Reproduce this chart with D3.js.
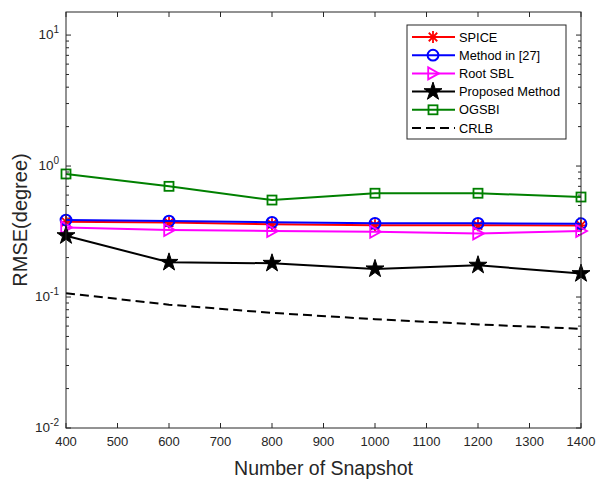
<!DOCTYPE html>
<html>
<head>
<meta charset="utf-8">
<script src="https://cdn.jsdelivr.net/npm/d3@7"></script>
<style>
  body { margin: 0; background: #fff; }
  svg { display: block; font-family: "Liberation Sans", Arial, sans-serif; }
</style>
</head>
<body>
<svg id="chart" width="599" height="483"></svg>
<script>
const snapshots = [400, 600, 800, 1000, 1200, 1400];
const spice = [0.375, 0.37, 0.36, 0.353, 0.353, 0.352];
const method27 = [0.387, 0.38, 0.372, 0.365, 0.365, 0.363];
const rootSbl = [0.34, 0.325, 0.319, 0.315, 0.306, 0.319];
const proposed = [0.294, 0.184, 0.181, 0.164, 0.175, 0.151];
const ogsbi = [0.87, 0.70, 0.55, 0.62, 0.62, 0.58];
const crlb = [0.107, 0.0874, 0.0757, 0.0677, 0.0618, 0.0572];
const xTicks = [400, 500, 600, 700, 800, 900, 1000, 1100, 1200, 1300, 1400];
const yDecades = [-2, -1, 0, 1];

const series = [
  { name: 'SPICE', values: spice, color: '#ff0000', marker: 'asterisk' },
  { name: 'Method in [27]', values: method27, color: '#0000ff', marker: 'circle' },
  { name: 'Root SBL', values: rootSbl, color: '#ff00ff', marker: 'triangle' },
  { name: 'Proposed Method', values: proposed, color: '#000000', marker: 'star' },
  { name: 'OGSBI', values: ogsbi, color: '#008000', marker: 'square' },
  { name: 'CRLB', values: crlb, color: '#000000', marker: 'none', dash: '9,5' }
];

const margin = { left: 66, top: 12, right: 18, bottom: 55 };
const W = 599 - margin.left - margin.right;
const H = 483 - margin.top - margin.bottom;

const svg = d3.select('#chart');
const g = svg.append('g').attr('transform', `translate(${margin.left},${margin.top})`);

const x = d3.scaleLinear().domain([400, 1400]).range([0, W]);
const y = d3.scaleLog().domain([0.01, 15]).range([H, 0]);

// minor/major ticks on y
const minorY = [];
for (let e = -2; e <= 1; e += 1) {
  for (let k = 2; k <= 9; k += 1) {
    const v = k * Math.pow(10, e);
    if (v < 15) minorY.push(v);
  }
}

const tickG = g.append('g').attr('stroke', '#262626').attr('stroke-width', 1);
xTicks.forEach(t => {
  tickG.append('line').attr('x1', x(t)).attr('x2', x(t)).attr('y1', H).attr('y2', H - 5);
  tickG.append('line').attr('x1', x(t)).attr('x2', x(t)).attr('y1', 0).attr('y2', 5);
});
yDecades.forEach(e => {
  const v = Math.pow(10, e);
  tickG.append('line').attr('x1', 0).attr('x2', 5).attr('y1', y(v)).attr('y2', y(v));
  tickG.append('line').attr('x1', W).attr('x2', W - 5).attr('y1', y(v)).attr('y2', y(v));
});
minorY.forEach(v => {
  tickG.append('line').attr('x1', 0).attr('x2', 3).attr('y1', y(v)).attr('y2', y(v));
  tickG.append('line').attr('x1', W).attr('x2', W - 3).attr('y1', y(v)).attr('y2', y(v));
});

// tick labels
xTicks.forEach(t => {
  g.append('text').attr('x', x(t)).attr('y', H + 18)
    .attr('text-anchor', 'middle').attr('font-size', 13).attr('fill', '#262626')
    .text(t);
});
yDecades.forEach(e => {
  const tx = g.append('text').attr('x', -7).attr('y', y(Math.pow(10, e)) + 4)
    .attr('text-anchor', 'end').attr('font-size', 13.5).attr('fill', '#262626');
  tx.append('tspan').text('10');
  tx.append('tspan').attr('dy', -6).attr('font-size', 10).text(e);
});

// axis labels
svg.append('text').attr('x', margin.left + W / 2).attr('y', 475)
  .attr('text-anchor', 'middle').attr('font-size', 19.5).attr('fill', '#262626')
  .text('Number of Snapshot');
svg.append('text').attr('transform', `translate(27,${margin.top + H / 2}) rotate(-90)`)
  .attr('text-anchor', 'middle').attr('font-size', 20).attr('fill', '#262626')
  .text('RMSE(degree)');

const drawMarker = (sel, type, color, size) => {
  const s = size / 2;
  if (type === 'asterisk') {
    [0, 45, 90, 135].forEach(a => {
      const r = a * Math.PI / 180;
      sel.append('line')
        .attr('x1', -s * Math.cos(r)).attr('y1', -s * Math.sin(r))
        .attr('x2', s * Math.cos(r)).attr('y2', s * Math.sin(r))
        .attr('stroke', color).attr('stroke-width', 1.8);
    });
  }
  else if (type === 'circle') {
    sel.append('circle').attr('r', s * 0.9).attr('fill', 'none')
      .attr('stroke', color).attr('stroke-width', 2);
  }
  else if (type === 'triangle') {
    sel.append('path').attr('d', `M${-s * 0.8},${-s}L${s},0L${-s * 0.8},${s}Z`)
      .attr('fill', 'none').attr('stroke', color).attr('stroke-width', 1.8);
  }
  else if (type === 'square') {
    const q = s * 0.75;
    sel.append('rect').attr('x', -q).attr('y', -q).attr('width', 2 * q).attr('height', 2 * q)
      .attr('fill', 'none').attr('stroke', color).attr('stroke-width', 1.8);
  }
  else if (type === 'star') {
    sel.append('path').attr('d', d3.symbol(d3.symbolStar, size * size * 0.7)())
      .attr('fill', color).attr('stroke', color).attr('stroke-width', 1);
  }
};

const line = d3.line().x((d, i) => x(snapshots[i])).y(d => y(d));

series.forEach(s => {
  g.append('path').datum(s.values)
    .attr('d', line).attr('fill', 'none')
    .attr('stroke', s.color).attr('stroke-width', 2)
    .attr('stroke-dasharray', s.dash || null);
  if (s.marker !== 'none') {
    s.values.forEach((v, i) => {
      const m = g.append('g').attr('transform', `translate(${x(snapshots[i])},${y(v)})`);
      drawMarker(m, s.marker, s.color, 12);
    });
  }
});

// frame
g.append('rect').attr('width', W).attr('height', H)
  .attr('fill', 'none').attr('stroke', '#262626').attr('stroke-width', 1);

// legend
const lg = svg.append('g').attr('transform', 'translate(407,25)');
lg.append('rect').attr('width', 159).attr('height', 114)
  .attr('fill', '#fff').attr('stroke', '#262626').attr('stroke-width', 1);
series.forEach((s, i) => {
  const yy = 12 + i * 18.2;
  lg.append('line').attr('x1', 5).attr('x2', 48).attr('y1', yy).attr('y2', yy)
    .attr('stroke', s.color).attr('stroke-width', 2)
    .attr('stroke-dasharray', s.dash || null);
  if (s.marker !== 'none') {
    const m = lg.append('g').attr('transform', `translate(26,${yy})`);
    drawMarker(m, s.marker, s.color, 12);
  }
  lg.append('text').attr('x', 52).attr('y', yy + 4.5)
    .attr('font-size', 12.8).attr('fill', '#000').text(s.name);
});
</script>
</body>
</html>
